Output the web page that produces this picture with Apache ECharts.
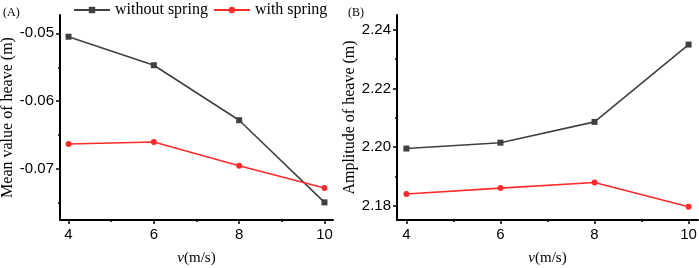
<!DOCTYPE html>
<html>
<head>
<meta charset="utf-8">
<script src="https://cdn.jsdelivr.net/npm/echarts@6/dist/echarts.min.js"></script>
<style>
  html, body { margin: 0; padding: 0; background: #fff; }
  #main { width: 699px; height: 268px; }
</style>
</head>
<body>
<div id="main"></div>
<script>
// speeds (m/s)
var speeds = [4, 6, 8, 10];

// panel A: mean value of heave (m)
var meanWithout = [-0.0505, -0.0547, -0.0628, -0.0749];
var meanWith = [-0.0663, -0.0660, -0.0695, -0.0728];

// panel B: amplitude of heave (m)
var ampWithout = [2.1995, 2.2015, 2.2086, 2.2350];
var ampWith = [2.1840, 2.1860, 2.1879, 2.1796];

var xTicks = [4, 6, 8, 10];
var xMinor = [5, 7, 9];
var yTicksA = [-0.07, -0.06, -0.05];
var yMinorA = [-0.075, -0.065, -0.055];
var yTicksB = [2.18, 2.20, 2.22, 2.24];
var yMinorB = [2.19, 2.21, 2.23];

var serif = '"Liberation Serif", "Times New Roman", serif';
var sans = '"Liberation Sans", Arial, sans-serif';
var grey = '#404040';
var red = '#ff2a2a';

function pairs(xs, ys) {
    return xs.map(function (x, i) { return [x, ys[i]]; });
}

var axisLine = { lineStyle: { color: '#000', width: 2 } };

function xMain(idx) {
    return {
        type: 'value', gridIndex: idx, min: 3.8, max: 10.2,
        axisLine: axisLine,
        splitLine: { show: false },
        axisTick: { customValues: xTicks, length: 4, lineStyle: { color: '#000', width: 1.5 } },
        axisLabel: { customValues: xTicks, margin: 7, fontFamily: sans, fontSize: 15, color: '#000' },
        name: '{i|v}(m/s)', nameLocation: 'middle', nameGap: 31,
        nameTextStyle: {
            fontFamily: serif, fontSize: 15, color: '#000',
            rich: { i: { fontFamily: serif, fontStyle: 'italic', fontSize: 15, color: '#000' } }
        }
    };
}

function xMinorAxis(idx) {
    return {
        type: 'value', gridIndex: idx, min: 3.8, max: 10.2, position: 'bottom',
        axisLine: { show: false },
        splitLine: { show: false },
        axisTick: { customValues: xMinor, length: 2, lineStyle: { color: '#000', width: 1.5 } },
        axisLabel: { show: false }
    };
}

function yMain(idx, min, max, ticks, name, gap) {
    return {
        type: 'value', gridIndex: idx, min: min, max: max,
        axisLine: axisLine,
        splitLine: { show: false },
        axisTick: { customValues: ticks, length: 4, lineStyle: { color: '#000', width: 1.5 } },
        axisLabel: {
            customValues: ticks, margin: 6, fontFamily: sans, fontSize: 15, color: '#000',
            formatter: function (v) { return v.toFixed(2); }
        },
        name: name, nameLocation: 'middle', nameGap: gap,
        nameTextStyle: { fontFamily: serif, fontSize: 16, color: '#000' }
    };
}

function yMinorAxis(idx, min, max, ticks) {
    return {
        type: 'value', gridIndex: idx, min: min, max: max, position: 'left',
        axisLine: { show: false },
        splitLine: { show: false },
        axisTick: { customValues: ticks, length: 2, lineStyle: { color: '#000', width: 1.5 } },
        axisLabel: { show: false }
    };
}

function line(name, xi, yi, data, color, symbol) {
    return {
        name: name, type: 'line', xAxisIndex: xi, yAxisIndex: yi,
        data: data, symbol: symbol, symbolSize: 6,
        itemStyle: { color: color },
        lineStyle: { color: color, width: 1.6 },
        emphasis: { disabled: true }
    };
}

var chart = echarts.init(document.getElementById('main'));

var option = {
    animation: false,
    backgroundColor: '#fff',
    title: [
        { text: '(A)', left: -2, top: 2, textStyle: { fontFamily: serif, fontSize: 12, fontWeight: 'normal', color: '#000' } },
        { text: '(B)', left: 343, top: 2, textStyle: { fontFamily: serif, fontSize: 12, fontWeight: 'normal', color: '#000' } }
    ],
    legend: {
        top: 2, left: 73, padding: 0, itemGap: 5, itemWidth: 36, itemHeight: 8,
        textStyle: { fontFamily: serif, fontSize: 16, color: '#000' },
        data: ['without spring', 'with spring']
    },
    grid: [
        { left: 60, right: 366, top: 15, bottom: 48, outerBoundsMode: 'none' },
        { left: 397, right: 1, top: 15, bottom: 48, outerBoundsMode: 'none' }
    ],
    xAxis: [xMain(0), xMinorAxis(0), xMain(1), xMinorAxis(1)],
    yAxis: [
        yMain(0, -0.0775, -0.0473, yTicksA, 'Mean value of heave (m)', 43),
        yMinorAxis(0, -0.0775, -0.0473, yMinorA),
        yMain(1, 2.1751, 2.2451, yTicksB, 'Amplitude of heave (m)', 38),
        yMinorAxis(1, 2.1751, 2.2451, yMinorB)
    ],
    series: [
        line('without spring', 0, 0, pairs(speeds, meanWithout), grey, 'rect'),
        line('with spring', 0, 0, pairs(speeds, meanWith), red, 'circle'),
        line('without spring', 2, 2, pairs(speeds, ampWithout), grey, 'rect'),
        line('with spring', 2, 2, pairs(speeds, ampWith), red, 'circle')
    ]
};

chart.setOption(option);
</script>
</body>
</html>
